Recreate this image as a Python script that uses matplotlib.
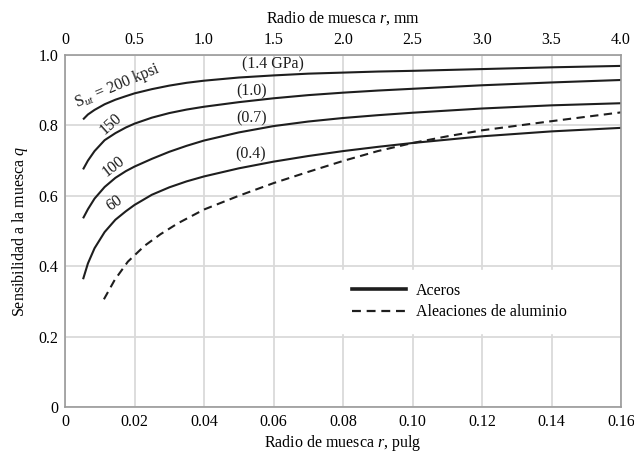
import numpy as np
import matplotlib
matplotlib.use("Agg")
import matplotlib.pyplot as plt

plt.rcParams["font.family"] = ["Liberation Serif", "DejaVu Serif"]
plt.rcParams["mathtext.fontset"] = "custom"
plt.rcParams["mathtext.rm"] = "Liberation Serif"
plt.rcParams["mathtext.it"] = "Liberation Serif:italic"

# ---- datos (r en pulg, q adimensional) ----
r_acero = [0.0052, 0.0066, 0.0085, 0.0114, 0.0145, 0.0175, 0.02, 0.025, 0.03,
           0.035, 0.04, 0.05, 0.06, 0.07, 0.08, 0.09, 0.10, 0.12, 0.14, 0.16]
q_200 = [0.817, 0.831, 0.844, 0.860, 0.873, 0.883, 0.891, 0.903, 0.913,
         0.921, 0.927, 0.936, 0.942, 0.947, 0.950, 0.953, 0.955, 0.960, 0.965, 0.969]
q_150 = [0.675, 0.700, 0.727, 0.758, 0.778, 0.794, 0.805, 0.822, 0.835,
         0.845, 0.853, 0.866, 0.877, 0.886, 0.893, 0.899, 0.904, 0.914, 0.922, 0.929]
q_100 = [0.536, 0.562, 0.592, 0.625, 0.651, 0.670, 0.683, 0.705, 0.725,
         0.742, 0.757, 0.780, 0.798, 0.811, 0.821, 0.829, 0.836, 0.848, 0.857, 0.863]
q_60 = [0.363, 0.408, 0.451, 0.497, 0.532, 0.556, 0.574, 0.603, 0.624,
        0.641, 0.655, 0.678, 0.697, 0.713, 0.727, 0.739, 0.750, 0.769, 0.783, 0.793]

r_alum = [0.0112, 0.0143, 0.0181, 0.0229, 0.0275, 0.0325, 0.04, 0.05, 0.06,
          0.07, 0.08, 0.09, 0.10, 0.11, 0.12, 0.14, 0.16]
q_alum = [0.306, 0.361, 0.413, 0.458, 0.491, 0.522, 0.561, 0.600, 0.636,
          0.668, 0.699, 0.727, 0.750, 0.769, 0.786, 0.812, 0.837]

x_ticks = [0, 0.02, 0.04, 0.06, 0.08, 0.10, 0.12, 0.14, 0.16]
x_labels = ["0", "0.02", "0.04", "0.06", "0.08", "0.10", "0.12", "0.14", "0.16"]
y_ticks = [0, 0.2, 0.4, 0.6, 0.8, 1.0]
y_labels = ["0", "0.2", "0.4", "0.6", "0.8", "1.0"]
mm_ticks = [0, 0.5, 1.0, 1.5, 2.0, 2.5, 3.0, 3.5, 4.0]
mm_labels = ["0", "0.5", "1.0", "1.5", "2.0", "2.5", "3.0", "3.5", "4.0"]

# etiquetas sobre las curvas (texto, x, y, angulo)
kpsi_labels = [
    (r"S$_{ut}$ = 200 kpsi", 0.0150, 0.911, 23),
    ("150", 0.0131, 0.805, 42),
    ("100", 0.0139, 0.682, 38),
    ("60", 0.0142, 0.578, 35),
]
gpa_labels = [
    ("(1.4 GPa)", 0.0597, 0.972),
    ("(1.0)", 0.0538, 0.897),
    ("(0.7)", 0.0538, 0.820),
    ("(0.4)", 0.0534, 0.718),
]

fig = plt.figure(figsize=(6.34, 4.55), dpi=100)
ax = fig.add_axes([65 / 634, 48 / 455, 556 / 634, 352 / 455])

lc = "#1e1e1e"
for q in (q_200, q_150, q_100, q_60):
    ax.plot(r_acero, q, color=lc, lw=1.5, solid_joinstyle="round",
            solid_capstyle="butt")
ax.plot(r_alum, q_alum, color=lc, lw=1.5, linestyle=(0, (4, 2.6)))

ax.set_xlim(0, 0.16)
ax.set_ylim(0, 1.0)
ax.set_xticks(x_ticks)
ax.set_xticklabels(x_labels)
ax.set_yticks(y_ticks)
ax.set_yticklabels(y_labels)
ax.tick_params(length=0, labelsize=11.5, pad=5)
ax.grid(True, color="#dadada", lw=1.3)
ax.set_axisbelow(True)
for s in ax.spines.values():
    s.set_color("#9a9a9a")
    s.set_linewidth(1.2)

ax.set_xlabel(r"Radio de muesca $r$, pulg", fontsize=11.5, labelpad=2)
ax.set_ylabel(r"Sensibilidad a la muesca $q$", fontsize=11.5, labelpad=6)

top = ax.secondary_xaxis("top", functions=(lambda x: x * 25, lambda x: x / 25))
top.set_xticks(mm_ticks)
top.set_xticklabels(mm_labels)
top.tick_params(length=0, labelsize=11.5, pad=5)
top.spines["top"].set_visible(False)
top.set_xlabel(r"Radio de muesca $r$, mm", fontsize=11.5, labelpad=7)

for txt, x, y, ang in kpsi_labels:
    ax.text(x, y, txt, fontsize=11.5, rotation=ang, ha="center", va="center",
            rotation_mode="anchor", color=lc)
for txt, x, y in gpa_labels:
    ax.text(x, y, txt, fontsize=11.5, ha="center", va="center", color=lc)

h1, = ax.plot([], [], color=lc, lw=2.6, label="Aceros")
h2, = ax.plot([], [], color=lc, lw=1.6, linestyle=(0, (4, 2.6)),
              label="Aleaciones de aluminio")
leg = ax.legend(handles=[h1, h2], loc="center left", bbox_to_anchor=(0.493, 0.30),
                frameon=True, fontsize=11.5, handlelength=3.4, handletextpad=0.6,
                borderpad=0.8, labelspacing=0.35, borderaxespad=0, fancybox=False)
leg.get_frame().set_edgecolor("white")
leg.get_frame().set_facecolor("white")
leg.get_frame().set_alpha(1)

fig.savefig("out.png", dpi=100)
